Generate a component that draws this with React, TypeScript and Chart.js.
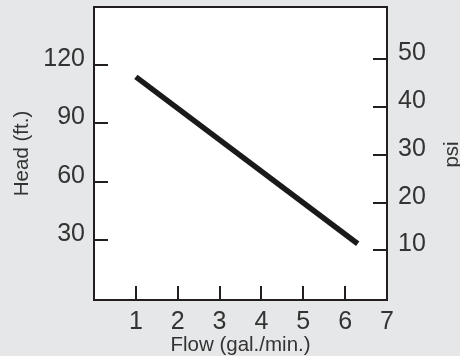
import React, { useEffect, useRef } from 'react';
import { Chart, registerables } from 'chart.js';

Chart.register(...registerables);

// Data
const flow = [1, 6.3];
const head = [114, 28];
const flowTicks = [1, 2, 3, 4, 5, 6, 7];
const headTicks = [30, 60, 90, 120];
const psiTicks = [10, 20, 30, 40, 50];

const TEXT = '#333333';
const INK = '#231f20';
const FONT = "'Liberation Sans', Arial, sans-serif";
const BG = '#e6e7e8';

export default function App() {
  const ref = useRef<HTMLCanvasElement>(null);

  useEffect(() => {
    document.body.style.margin = '0';
    document.body.style.background = BG;
    const canvas = ref.current;
    if (!canvas) return;

    const noPad = (s: any) => {
      s.paddingTop = 0;
      s.paddingBottom = 0;
      s.paddingLeft = 0;
      s.paddingRight = 0;
    };

    const boxPlugin = {
      id: 'box',
      beforeDraw(chart: any) {
        const { ctx, chartArea: a } = chart;
        ctx.save();
        ctx.fillStyle = '#ffffff';
        ctx.fillRect(a.left, a.top, a.right - a.left, a.bottom - a.top);
        ctx.restore();
      },
      afterDraw(chart: any) {
        const { ctx, chartArea: a } = chart;
        ctx.save();
        ctx.strokeStyle = INK;
        ctx.lineWidth = 2;
        ctx.strokeRect(a.left, a.top, a.right - a.left, a.bottom - a.top);
        // right axis title, rotated like the left one
        const y1 = chart.scales.y1;
        ctx.translate(452, (y1.top + y1.bottom) / 2 + 1);
        ctx.rotate(-Math.PI / 2);
        ctx.fillStyle = TEXT;
        ctx.font = `20.5px ${FONT}`;
        ctx.textAlign = 'center';
        ctx.textBaseline = 'middle';
        ctx.fillText('psi', 0, 0);
        ctx.restore();
      },
    };

    const gridOpts = {
      drawOnChartArea: false,
      drawTicks: true,
      tickLength: -14,
      color: INK,
      lineWidth: 2,
    };

    const tickFont = { family: FONT, size: 25 };

    const chart = new Chart(canvas, {
      type: 'line',
      data: {
        datasets: [
          {
            data: flow.map((x, i) => ({ x, y: head[i] })),
            borderColor: '#1a1a1a',
            borderWidth: 5.5,
            borderCapStyle: 'butt',
            pointRadius: 0,
            fill: false,
            yAxisID: 'y',
          },
        ],
      },
      options: {
        responsive: false,
        animation: false,
        layout: { padding: { top: 7, left: 0, right: 0, bottom: 0 } },
        plugins: {
          legend: { display: false },
          tooltip: { enabled: false },
        },
        scales: {
          x: {
            type: 'linear',
            position: 'bottom',
            min: 0,
            max: 7,
            afterBuildTicks: (s: any) => {
              s.ticks = flowTicks.map((v) => ({ value: v }));
            },
            afterFit: (s: any) => {
              s.height = 56;
              noPad(s);
            },
            grid: gridOpts,
            border: { display: false },
            ticks: {
              color: TEXT,
              font: tickFont,
              padding: 21,
              maxRotation: 0,
              autoSkip: false,
            },
            title: {
              display: true,
              text: 'Flow (gal./min.)',
              color: TEXT,
              font: { family: FONT, size: 20.5, lineHeight: 1 },
              padding: { top: 0, bottom: 0 },
            },
          },
          y: {
            type: 'linear',
            position: 'left',
            min: -1,
            max: 150,
            afterBuildTicks: (s: any) => {
              s.ticks = headTicks.map((v) => ({ value: v }));
            },
            afterFit: (s: any) => {
              s.width = 94;
              noPad(s);
            },
            grid: gridOpts,
            border: { display: false },
            ticks: {
              color: TEXT,
              font: tickFont,
              padding: 23,
              labelOffset: -6,
              autoSkip: false,
            },
            title: {
              display: true,
              text: 'Head (ft.)',
              color: TEXT,
              font: { family: FONT, size: 20.5, lineHeight: 1.2 },
              padding: { top: 10, bottom: 0 },
            },
          },
          y1: {
            type: 'linear',
            position: 'right',
            min: -0.4,
            max: 61,
            afterBuildTicks: (s: any) => {
              s.ticks = psiTicks.map((v) => ({ value: v }));
            },
            afterFit: (s: any) => {
              s.width = 73;
              noPad(s);
            },
            grid: gridOpts,
            border: { display: false },
            ticks: {
              color: TEXT,
              font: tickFont,
              padding: 25,
              labelOffset: -6,
              autoSkip: false,
            },
            title: { display: false },
          },
        },
      },
      plugins: [boxPlugin],
    } as any);

    return () => chart.destroy();
  }, []);

  return (
    <div style={{ width: 460, height: 356, background: BG }}>
      <canvas ref={ref} width={460} height={356} style={{ display: 'block' }} />
    </div>
  );
}
